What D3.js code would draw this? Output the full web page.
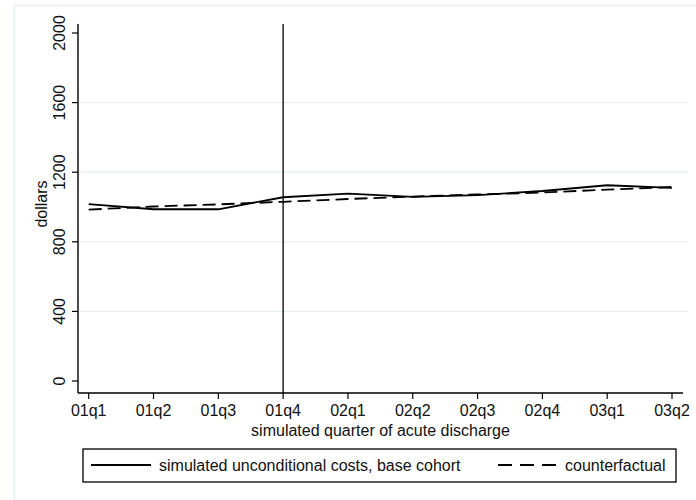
<!DOCTYPE html>
<html>
<head>
<meta charset="utf-8">
<title>Simulated unconditional costs</title>
<style>
  body { margin: 0px; background: #fff; }
  text { font-family: "Liberation Sans", Arial, sans-serif; fill: #111; }
</style>
</head>
<body>
<svg width="696" height="500"></svg>
<script src="https://d3js.org/d3.v7.min.js"></script>
<script>
// data
var quarters = ["01q1", "01q2", "01q3", "01q4", "02q1", "02q2", "02q3", "02q4", "03q1", "03q2"];
var baseCohort = [1017, 987, 987, 1056, 1077, 1058, 1068, 1092, 1125, 1110];
var counterfactual = [985, 1003, 1015, 1030, 1046, 1060, 1072, 1083, 1100, 1115];
var yTicks = [0, 400, 800, 1200, 1600, 2000];
var policyQuarter = "01q4";
var legendLabels = ["simulated unconditional costs, base cohort", "counterfactual"];

var svg = d3.select("svg");
var fs = 16;

// light outer frame
svg.append("rect")
  .attr("x", 14.5).attr("y", 5.5)
  .attr("width", 720).attr("height", 600)
  .attr("fill", "none")
  .attr("stroke", "#e6eff1")
  .attr("stroke-width", 1.5);

var x = d3.scalePoint().domain(quarters).range([88.7, 672]);
var y = d3.scaleLinear().domain([0, 2000]).range([381, 33]);

var axisLeft = 78, axisBottom = 393, axisTop = 24, axisRight = 683;

// gridlines
svg.selectAll(".grid")
  .data(yTicks.filter(function(d) { return d > 0 && d < 2000; }))
  .enter().append("line")
  .attr("class", "grid")
  .attr("x1", axisLeft).attr("x2", 688)
  .attr("y1", function(d) { return y(d); })
  .attr("y2", function(d) { return y(d); })
  .attr("stroke", "#e6eff1")
  .attr("stroke-width", 1.2);

// y axis
var gy = svg.append("g").attr("transform", "translate(" + axisLeft + ",0)");
gy.append("line")
  .attr("x1", 0).attr("x2", 0)
  .attr("y1", axisTop).attr("y2", axisBottom)
  .attr("stroke", "#000").attr("stroke-width", 1.4);
gy.selectAll(".ytick")
  .data(yTicks)
  .enter().append("line")
  .attr("x1", -6).attr("x2", 0)
  .attr("y1", function(d) { return y(d); })
  .attr("y2", function(d) { return y(d); })
  .attr("stroke", "#000").attr("stroke-width", 1.2);
gy.selectAll(".ylab")
  .data(yTicks)
  .enter().append("text")
  .attr("transform", function(d) { return "translate(-13," + y(d) + ") rotate(-90)"; })
  .attr("text-anchor", "middle")
  .attr("font-size", fs)
  .text(function(d) { return d; });

svg.append("text")
  .attr("transform", "translate(47,204) rotate(-90)")
  .attr("text-anchor", "middle")
  .attr("font-size", fs)
  .text("dollars");

// x axis
var gx = svg.append("g").attr("transform", "translate(0," + axisBottom + ")");
gx.append("line")
  .attr("x1", axisLeft).attr("x2", axisRight)
  .attr("y1", 0).attr("y2", 0)
  .attr("stroke", "#000").attr("stroke-width", 1.4);
gx.selectAll(".xtick")
  .data(quarters)
  .enter().append("line")
  .attr("x1", function(d) { return x(d); })
  .attr("x2", function(d) { return x(d); })
  .attr("y1", 0).attr("y2", 6)
  .attr("stroke", "#000").attr("stroke-width", 1.2);
gx.selectAll(".xlab")
  .data(quarters)
  .enter().append("text")
  .attr("x", function(d) { return x(d); })
  .attr("y", 23)
  .attr("text-anchor", "middle")
  .attr("font-size", fs)
  .text(function(d) { return d; });

svg.append("text")
  .attr("x", (axisLeft + axisRight) / 2)
  .attr("y", 436)
  .attr("text-anchor", "middle")
  .attr("font-size", fs)
  .text("simulated quarter of acute discharge");

// vertical marker
svg.append("line")
  .attr("x1", x(policyQuarter)).attr("x2", x(policyQuarter))
  .attr("y1", axisTop).attr("y2", axisBottom)
  .attr("stroke", "#000").attr("stroke-width", 1.3);

// series
var line = d3.line()
  .x(function(d, i) { return x(quarters[i]); })
  .y(function(d) { return y(d); });

svg.append("path")
  .datum(counterfactual)
  .attr("d", line)
  .attr("fill", "none")
  .attr("stroke", "#000")
  .attr("stroke-width", 1.8)
  .attr("stroke-dasharray", "13,6");

svg.append("path")
  .datum(baseCohort)
  .attr("d", line)
  .attr("fill", "none")
  .attr("stroke", "#000")
  .attr("stroke-width", 1.8);

// legend
var lg = svg.append("g");
lg.append("rect")
  .attr("x", 83).attr("y", 449)
  .attr("width", 593).attr("height", 33)
  .attr("fill", "#fff")
  .attr("stroke", "#000")
  .attr("stroke-width", 1.3);
lg.append("line")
  .attr("x1", 91).attr("x2", 151)
  .attr("y1", 465).attr("y2", 465)
  .attr("stroke", "#000").attr("stroke-width", 1.8);
lg.append("text")
  .attr("x", 159).attr("y", 471)
  .attr("font-size", fs)
  .text(legendLabels[0]);
lg.append("line")
  .attr("x1", 498).attr("x2", 558)
  .attr("y1", 465).attr("y2", 465)
  .attr("stroke", "#000").attr("stroke-width", 1.8)
  .attr("stroke-dasharray", "14,8");
lg.append("text")
  .attr("x", 565).attr("y", 471)
  .attr("font-size", fs)
  .text(legendLabels[1]);
</script>
</body>
</html>
